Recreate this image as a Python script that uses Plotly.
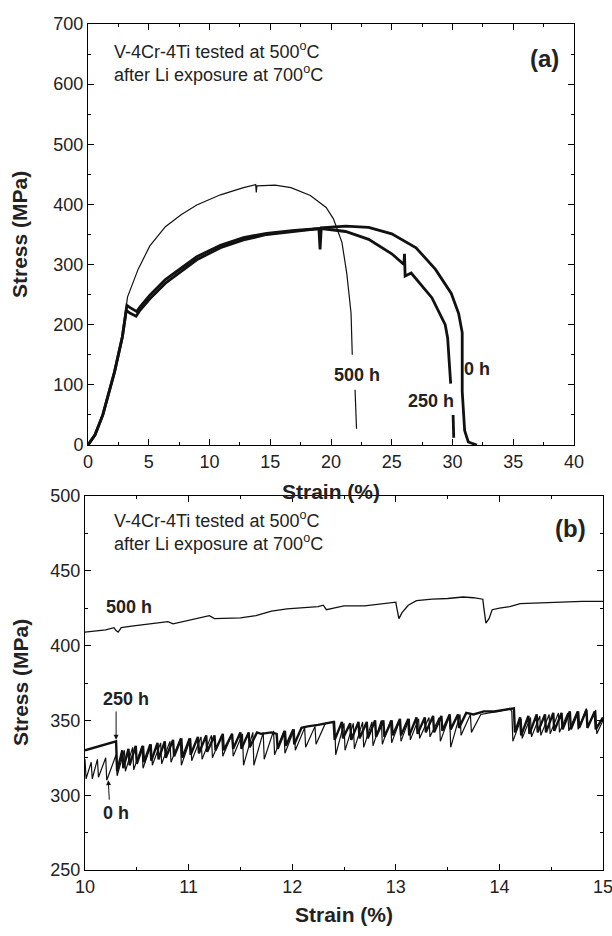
import plotly.graph_objects as go

# ---- panel (a): full stress-strain curves ----
a_strain_0h = [0, 0.58, 1.22, 2.19, 2.83, 3.15, 3.48, 3.96, 4.28, 5.09, 6.37, 7.66, 8.95, 10.9,
               12.8, 14.7, 17.0, 19.0, 19.1, 19.2, 21.2, 23.1, 25.0, 27.0, 28.6, 29.9, 30.5,
               30.8, 30.8, 31.0, 31.3, 32.0]
a_stress_0h = [0, 17, 50, 122, 180, 224, 219, 214, 224, 243, 269, 289, 308, 328,
               341, 350, 355, 360, 325, 361, 364, 362, 351, 328, 292, 252, 219,
               187, 89, 24, 5, 0]

a_strain_250h = [0, 0.58, 1.22, 2.19, 2.83, 3.2, 3.5, 4.0, 4.3, 5.09, 6.37, 7.66, 8.95, 10.9,
                 12.8, 14.7, 17.0, 19.2, 21.2, 23.1, 25.0, 26.0, 26.05, 26.1, 26.6, 28.3,
                 29.4, 29.6, 29.85, None, 30.05, 30.1]
a_stress_250h = [0, 17, 50, 122, 180, 232, 228, 222, 230, 249, 275, 294, 313, 332,
                 345, 352, 357, 360, 355, 342, 318, 300, 318, 281, 286, 245,
                 200, 178, 102, None, 50, 12]

a_strain_500h = [0, 0.58, 1.22, 2.19, 2.83, 3.25, 4.12, 5.09, 6.37, 7.66, 8.95, 10.9, 12.8,
                 13.8, 13.85, 13.9, 15.4, 16.7, 18.3, 19.6, 20.2, 20.9, 21.3, 21.65, 21.75,
                 None, 21.98, 22.1]
a_stress_500h = [0, 17, 50, 122, 180, 246, 292, 331, 363, 383, 399, 416, 428,
                 433, 420, 431, 432, 428, 415, 395, 376, 337, 285, 219, 150,
                 None, 92, 27]

# ---- panel (b): close-up 10-15 % strain ----
b_strain_500h = [10.00, 10.10, 10.20, 10.28, 10.30, 10.32, 10.35, 10.45, 10.55, 10.70, 10.80,
                 10.85, 10.95, 11.05, 11.15, 11.20, 11.25, 11.40, 11.50, 11.65, 11.80, 11.95,
                 12.10, 12.25, 12.30, 12.33, 12.40, 12.50, 12.70, 12.90, 13.00, 13.01, 13.03,
                 13.06, 13.12, 13.20, 13.35, 13.50, 13.65, 13.75, 13.84, 13.85, 13.87, 13.90,
                 13.93, 14.00, 14.10, 14.20, 14.40, 14.60, 14.80, 15.00]
b_stress_500h = [409, 409.5, 410.5, 412, 410, 409, 412, 413, 414, 415, 416,
                 414.5, 416, 418, 419, 420, 418, 418, 418.5, 420, 423, 424.5,
                 425, 426, 427, 424, 425, 426.5, 426.5, 428, 429, 425, 418,
                 422, 427, 430, 431, 431.5, 432.5, 432, 431, 425, 415, 418,
                 424, 425, 426, 428, 428.5, 429, 429.5, 429.5]

b_strain_250h = [10.00, 10.05, 10.10, 10.15, 10.20, 10.25, 10.30, 10.31,
                 10.36, 10.37, 10.42, 10.43, 10.49, 10.50, 10.56, 10.57, 10.63, 10.64,
                 10.70, 10.71, 10.77, 10.78, 10.85, 10.86, 10.93, 10.94, 11.01, 11.02,
                 11.09, 11.10, 11.17, 11.18, 11.25, 11.26, 11.33, 11.34, 11.42, 11.43,
                 11.50, 11.51, 11.58, 11.59, 11.66, 11.70, 11.80, 11.85, 11.86, 11.93,
                 11.94, 12.01, 12.02, 12.09, 12.15, 12.25, 12.35, 12.40, 12.41, 12.48,
                 12.49, 12.56, 12.57, 12.64, 12.65, 12.72, 12.73, 12.80, 12.81, 12.88,
                 12.89, 12.96, 12.97, 13.04, 13.05, 13.12, 13.13, 13.20, 13.21, 13.28,
                 13.29, 13.36, 13.37, 13.44, 13.45, 13.52, 13.53, 13.60, 13.61, 13.68,
                 13.75, 13.85, 13.95, 14.05, 14.12, 14.14, 14.15, 14.20, 14.21, 14.28,
                 14.29, 14.36, 14.37, 14.44, 14.45, 14.52, 14.53, 14.60, 14.61, 14.68,
                 14.69, 14.76, 14.77, 14.84, 14.85, 14.92, 14.93, 15.00]
b_stress_250h = [330, 331, 332, 333, 333.5, 335, 336, 316,
                 330, 318, 331, 320, 333, 321, 333, 322, 334, 323,
                 335, 324, 336, 325, 337, 326, 338, 325, 338, 327,
                 339, 328, 340, 329, 340, 330, 341, 330, 341, 331,
                 342, 331, 342, 332, 342, 341, 342, 341, 331, 343,
                 333, 344, 334, 345, 346, 347, 348, 349, 337, 349,
                 338, 348, 337, 349, 338, 349, 338, 350, 339, 350,
                 339, 350, 340, 351, 340, 351, 340, 352, 341, 352,
                 342, 353, 342, 353, 343, 354, 344, 354, 345, 355,
                 354, 356, 356, 357, 358, 358, 342, 352, 340, 353,
                 341, 354, 342, 354, 342, 355, 343, 355, 344, 356,
                 344, 356, 345, 357, 345, 356, 344, 352]

b_strain_0h = [10.00, 10.01, 10.06, 10.07, 10.12, 10.13, 10.20, 10.21, 10.30, 10.31,
               10.38, 10.39, 10.46, 10.47, 10.55, 10.56, 10.64, 10.65, 10.73, 10.74,
               10.82, 10.83, 10.92, 10.93, 11.02, 11.03, 11.12, 11.13, 11.22, 11.23,
               11.32, 11.33, 11.42, 11.43, 11.52, 11.53, 11.62, 11.63, 11.72, 11.73,
               11.82, 11.83, 11.92, 11.93, 12.02, 12.03, 12.12, 12.13, 12.22, 12.23,
               12.32, 12.41, 12.42, 12.50, 12.51, 12.59, 12.60, 12.68, 12.69, 12.77,
               12.78, 12.86, 12.87, 12.95, 12.96, 13.04, 13.05, 13.13, 13.14, 13.22,
               13.23, 13.32, 13.33, 13.42, 13.43, 13.52, 13.53, 13.62, 13.63, 13.72,
               13.73, 13.82, 13.90, 14.00, 14.10, 14.12, 14.13, 14.21, 14.22, 14.30,
               14.31, 14.39, 14.40, 14.48, 14.49, 14.57, 14.58, 14.66, 14.67, 14.75,
               14.76, 14.84, 14.85, 14.93, 14.94, 15.00]
b_stress_0h = [324, 311, 322, 311, 324, 312, 325, 310, 327, 313,
               330, 316, 332, 317, 333, 318, 334, 320, 335, 321,
               336, 322, 338, 320, 338, 323, 339, 324, 340, 325,
               340, 326, 341, 326, 341, 320, 342, 320, 342, 324,
               343, 327, 343, 328, 344, 330, 345, 332, 346, 334,
               348, 349, 327, 348, 330, 348, 331, 349, 332, 349,
               333, 350, 334, 350, 335, 350, 336, 351, 337, 351,
               338, 352, 339, 352, 336, 353, 332, 354, 340, 354,
               342, 354, 355, 356, 358, 356, 336, 351, 338, 352,
               339, 353, 340, 354, 341, 355, 342, 355, 343, 356,
               344, 358, 345, 357, 341, 350]

FONT = "Liberation Sans, Arial, sans-serif"
INK = "#111111"
TXT = "#222222"

W, H = 612, 936
ML, MR, MT, MB = 85, 9, 24, 66
PW, PH = W - ML - MR, H - MT - MB


def px_x(px):
    return (px - ML) / PW


def px_y(py):
    return (H - MB - py) / PH


fig = go.Figure()

fig.add_trace(go.Scatter(x=a_strain_0h, y=a_stress_0h, mode="lines",
                         line=dict(color=INK, width=2.8), xaxis="x", yaxis="y"))
fig.add_trace(go.Scatter(x=a_strain_250h, y=a_stress_250h, mode="lines",
                         line=dict(color=INK, width=2.8), xaxis="x", yaxis="y"))
fig.add_trace(go.Scatter(x=a_strain_500h, y=a_stress_500h, mode="lines",
                         line=dict(color=INK, width=1.2), xaxis="x", yaxis="y"))

fig.add_trace(go.Scatter(x=b_strain_0h, y=b_stress_0h, mode="lines",
                         line=dict(color=INK, width=1.2), xaxis="x2", yaxis="y2"))
fig.add_trace(go.Scatter(x=b_strain_250h, y=b_stress_250h, mode="lines",
                         line=dict(color=INK, width=2.4), xaxis="x2", yaxis="y2"))
fig.add_trace(go.Scatter(x=b_strain_500h, y=b_stress_500h, mode="lines",
                         line=dict(color=INK, width=1.3), xaxis="x2", yaxis="y2"))

axis_common = dict(
    showline=True, linecolor="black", linewidth=1, mirror="allticks",
    ticks="inside", ticklen=6, tickcolor="black", showgrid=False, zeroline=False,
    automargin=False, ticklabeloverflow="allow",
    tickfont=dict(family=FONT, size=18, color=TXT),
)

note = "V-4Cr-4Ti tested at 500<sup>o</sup>C<br>after Li exposure at 700<sup>o</sup>C"
note_font = dict(family=FONT, size=18, color=TXT)
lbl = dict(family=FONT, size=18, color=TXT, weight="bold")
ttl = dict(family=FONT, size=21, color=TXT, weight="bold")


def paper_text(text, px, py, angle=0):
    return dict(text=text, x=px_x(px), y=px_y(py), xref="paper", yref="paper",
                xanchor="center", yanchor="middle",
                showarrow=False, textangle=angle, font=ttl)


fig.update_layout(
    width=W, height=H,
    margin=dict(l=ML, r=MR, t=MT, b=MB),
    paper_bgcolor="white", plot_bgcolor="white",
    showlegend=False,
    xaxis=dict(axis_common, domain=[px_x(88), px_x(574)], anchor="y", range=[0, 40],
               dtick=5, minor=dict(ticks="inside", ticklen=3, dtick=2.5, tickcolor="black")),
    yaxis=dict(axis_common, domain=[px_y(445), px_y(24)], anchor="x", range=[0, 700],
               dtick=100, minor=dict(ticks="inside", ticklen=3, dtick=50, tickcolor="black")),
    xaxis2=dict(axis_common, domain=[px_x(85), px_x(603)], anchor="y2", range=[10, 15],
                dtick=1, minor=dict(ticks="inside", ticklen=3, dtick=0.5, tickcolor="black")),
    yaxis2=dict(axis_common, domain=[px_y(870), px_y(496)], anchor="x2", range=[250, 500],
                dtick=50, minor=dict(ticks="inside", ticklen=3, dtick=25, tickcolor="black")),
    annotations=[
        paper_text("Strain (%)", 331, 491),
        paper_text("Stress (MPa)", 20, 235, -90),
        paper_text("Strain (%)", 344, 914),
        paper_text("Stress (MPa)", 20, 683, -90),
        dict(text=note, x=2.0, y=678, xref="x", yref="y", xanchor="left", yanchor="top",
             align="left", showarrow=False, font=note_font),
        dict(text="<b>(a)</b>", x=37.6, y=643, xref="x", yref="y",
             showarrow=False, font=dict(family=FONT, size=24, color=TXT)),
        dict(text="500 h", x=22.1, y=116, xref="x", yref="y", showarrow=False, font=lbl),
        dict(text="250 h", x=28.2, y=73, xref="x", yref="y", showarrow=False, font=lbl),
        dict(text="0 h", x=32.0, y=127, xref="x", yref="y", showarrow=False, font=lbl),
        dict(text=note, x=10.26, y=493, xref="x2", yref="y2", xanchor="left", yanchor="top",
             align="left", showarrow=False, font=note_font),
        dict(text="<b>(b)</b>", x=14.69, y=478, xref="x2", yref="y2",
             showarrow=False, font=dict(family=FONT, size=24, color=TXT)),
        dict(text="500 h", x=10.42, y=426, xref="x2", yref="y2", showarrow=False, font=lbl),
        dict(text="250 h", x=10.4, y=364, xref="x2", yref="y2", showarrow=False, font=lbl),
        dict(text="0 h", x=10.3, y=288, xref="x2", yref="y2", showarrow=False, font=lbl),
        dict(text="", x=10.3, y=337, ax=10.3, ay=357, xref="x2", yref="y2",
             axref="x2", ayref="y2", showarrow=True, arrowhead=2, arrowsize=1,
             arrowwidth=1, arrowcolor=INK),
        dict(text="", x=10.225, y=310, ax=10.235, ay=296, xref="x2", yref="y2",
             axref="x2", ayref="y2", showarrow=True, arrowhead=2, arrowsize=1,
             arrowwidth=1, arrowcolor=INK),
    ],
)

# the page's default body margin would shift the figure by 8px
fig.write_html("out.html", config={"displayModeBar": False},
               post_script="document.body.style.margin = '0';")
